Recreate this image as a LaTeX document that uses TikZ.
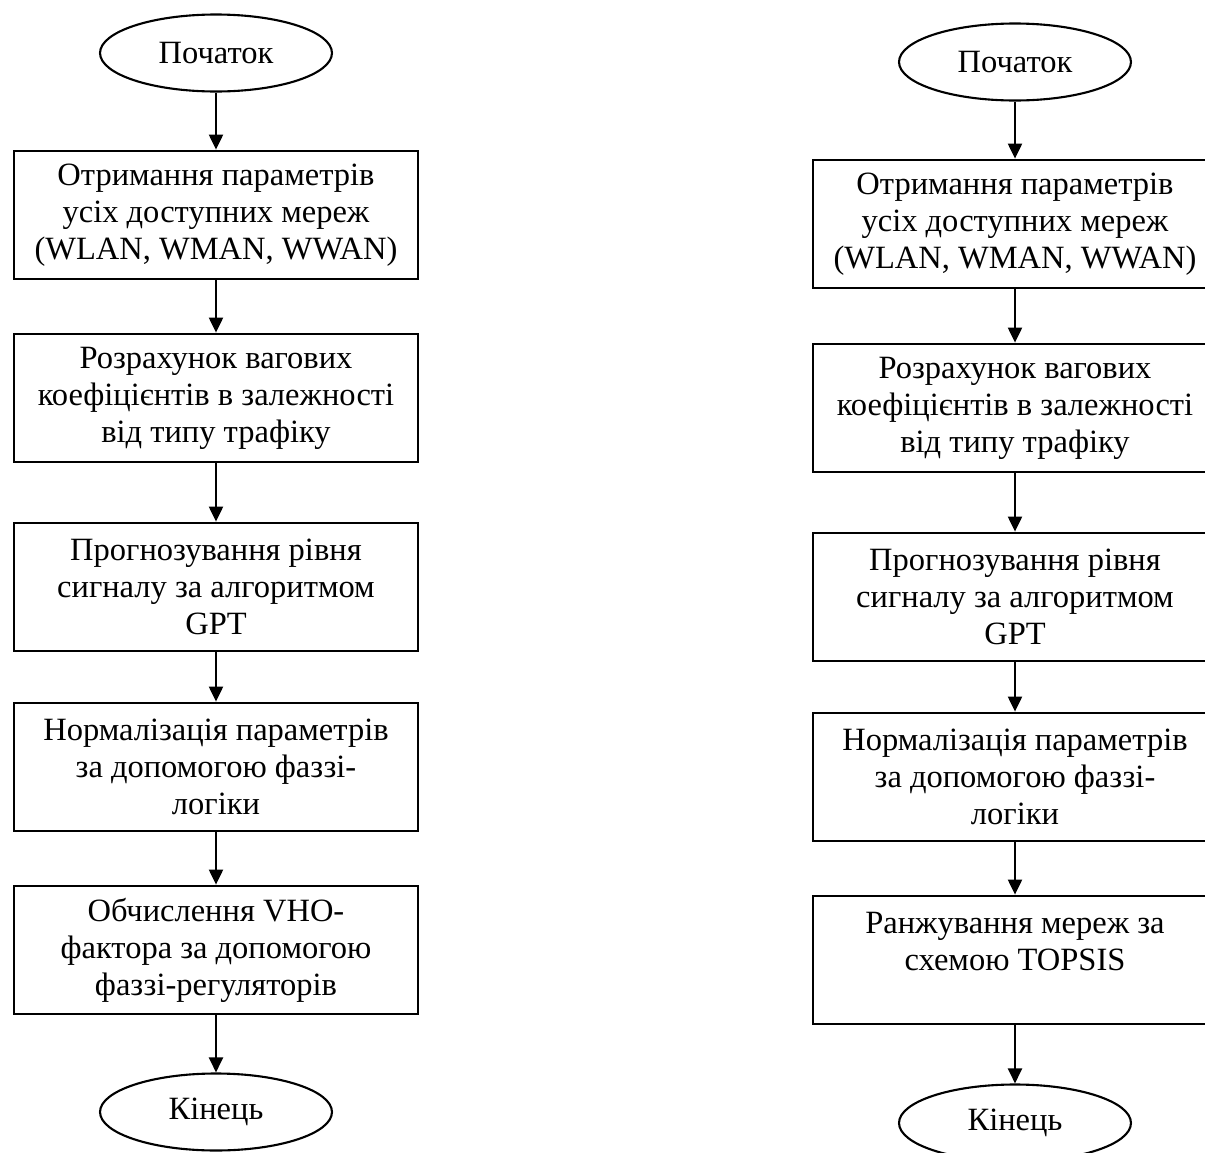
\documentclass[tikz,border=0pt]{standalone}
\usepackage{fontspec}
\setmainfont{Liberation Serif}
\usetikzlibrary{arrows.meta,shapes.geometric}

\tikzset{
  term/.style={draw,ellipse,line width=1.2pt,minimum width=4.64cm,minimum height=1.54cm,inner sep=0pt,font=\fontsize{18.5}{21}\selectfont},
  box/.style={draw,rectangle,line width=1.6pt,minimum width=8.08cm,minimum height=2.56cm,inner sep=0pt,align=center,font=\fontsize{18.5}{21}\selectfont},
  flow/.style={line width=1.2pt,-{Triangle[width=0.28cm,length=0.3cm]}}
}

\begin{document}
\begin{tikzpicture}[x=0.02cm,y=-0.02cm]
  \clip (0,0) rectangle (1205,1153);
  % left chart
  \path
  (216,53) node[term](L0){Початок}
  (216,215) node[box](L1){Отримання параметрів\\усіх доступних мереж\\(WLAN, WMAN, WWAN)}
  (216,398) node[box](L2){Розрахунок вагових\\коефіцієнтів в залежності\\від типу трафіку}
  (216,587) node[box](L3){Прогнозування рівня\\сигналу за алгоритмом\\GPT}
  (216,767) node[box](L4){Нормалізація параметрів\\за допомогою фаззі-\\логіки}
  (216,950) node[box](L5){Обчислення VHO-\\фактора за допомогою\\фаззі-регуляторів}
  (216,1112) node[term](L6){Кінець};
  \draw[flow]
  (L0) edge (L1)
  (L1) edge (L2)
  (L2) edge (L3)
  (L3) edge (L4)
  (L4) edge (L5)
  (L5) edge (L6);
  % right chart
  \path
  (1015,62) node[term](R0){Початок}
  (1015,224) node[box](R1){Отримання параметрів\\усіх доступних мереж\\(WLAN, WMAN, WWAN)}
  (1015,408) node[box](R2){Розрахунок вагових\\коефіцієнтів в залежності\\від типу трафіку}
  (1015,597) node[box](R3){Прогнозування рівня\\сигналу за алгоритмом\\GPT}
  (1015,777) node[box](R4){Нормалізація параметрів\\за допомогою фаззі-\\логіки}
  (1015,960) node[box](R5){Ранжування мереж за\\схемою TOPSIS\\~}
  (1015,1123) node[term](R6){Кінець};
  \draw[flow]
  (R0) edge (R1)
  (R1) edge (R2)
  (R2) edge (R3)
  (R3) edge (R4)
  (R4) edge (R5)
  (R5) edge (R6);
\end{tikzpicture}
\end{document}
